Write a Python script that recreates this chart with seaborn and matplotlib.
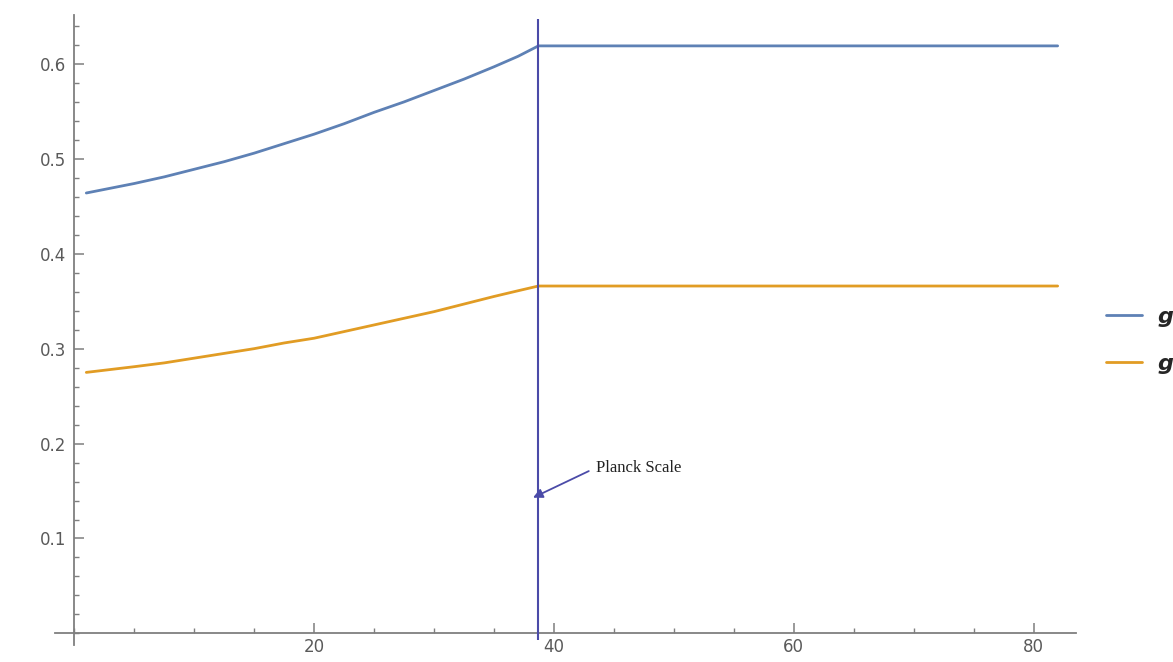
import matplotlib
matplotlib.use("Agg")
import matplotlib.pyplot as plt
import seaborn as sns
import pandas as pd
from matplotlib.ticker import MultipleLocator
from matplotlib.lines import Line2D

# Running couplings vs. scale parameter t, frozen above the Planck scale
t_values = [1, 3, 5, 7.5, 10, 12.5, 15, 17.5, 20, 22.5, 25, 27.5, 30, 32.5, 35, 37, 38.7, 82]
g_blue = [0.464, 0.469, 0.474, 0.481, 0.489, 0.497, 0.506, 0.516, 0.526, 0.537,
          0.549, 0.560, 0.572, 0.584, 0.597, 0.608, 0.619, 0.619]
g_orange = [0.275, 0.278, 0.281, 0.285, 0.290, 0.295, 0.300, 0.306, 0.311, 0.318,
            0.325, 0.332, 0.339, 0.347, 0.355, 0.361, 0.366, 0.366]
series_names = ["g", "g "]
planck_t = 38.7
planck_label = "Planck Scale"

df = pd.concat([
    pd.DataFrame({"t": t_values, "g": g_blue, "series": series_names[0]}),
    pd.DataFrame({"t": t_values, "g": g_orange, "series": series_names[1]}),
])

sns.set_style("white")
fig = plt.figure(figsize=(11.73, 6.62), dpi=100)
ax = fig.add_axes([0.047, 0.026, 0.870, 0.952])

colors = ["#5E81B5", "#E19C24"]
sns.lineplot(data=df, x="t", y="g", hue="series", palette=colors,
             linewidth=2.0, ax=ax, legend=False)

ax.set_xlim(-1.6, 83.5)
ax.set_ylim(-0.012, 0.652)

# Axes crossing at the origin
axis_color = "#7f7f7f"
for side in ["top", "right"]:
    ax.spines[side].set_visible(False)
ax.spines["left"].set_position(("data", 0))
ax.spines["bottom"].set_position(("data", 0))
for side in ["left", "bottom"]:
    ax.spines[side].set_color(axis_color)
    ax.spines[side].set_linewidth(1.3)

ax.xaxis.set_major_locator(MultipleLocator(20))
ax.xaxis.set_minor_locator(MultipleLocator(5))
ax.yaxis.set_major_locator(MultipleLocator(0.1))
ax.yaxis.set_minor_locator(MultipleLocator(0.02))
ax.tick_params(axis="both", which="both", bottom=True, left=True,
               top=False, right=False)
ax.tick_params(axis="both", which="major", direction="in", length=7, width=1.1,
               color=axis_color, labelcolor="#5a5a5a", labelsize=12)
ax.tick_params(axis="both", which="minor", direction="in", length=3.5, width=1.0,
               color=axis_color)
ax.tick_params(axis="x", which="major", pad=3)
ax.tick_params(axis="y", which="major", pad=6)
ax.set_xticks([20, 40, 60, 80])
ax.set_yticks([0.1, 0.2, 0.3, 0.4, 0.5, 0.6])
ax.set_xticklabels(["20", "40", "60", "80"])
ax.set_yticklabels(["0.1", "0.2", "0.3", "0.4", "0.5", "0.6"])
ax.set_xlabel("")
ax.set_ylabel("")

# Planck scale marker
line_color = "#4B4BA8"
ax.vlines(planck_t, -0.0074, 0.647, color=line_color, linewidth=1.5, zorder=3)
ax.annotate("", xy=(planck_t - 0.45, 0.143), xytext=(42.9, 0.171),
            arrowprops=dict(arrowstyle="-|>", color=line_color, lw=1.3,
                            mutation_scale=14, shrinkA=0, shrinkB=0))
ax.text(43.5, 0.174, planck_label, fontsize=12, family="Liberation Serif",
        color="#222222", va="center", ha="left")

# Legend outside the plot on the right
handles = [Line2D([0], [0], color=c, linewidth=2.0) for c in colors]
fig.legend(handles, ["g", "g"], loc="center left", bbox_to_anchor=(0.943, 0.486),
           frameon=False, borderpad=0, borderaxespad=0,
           handlelength=1.6, handletextpad=0.7, labelspacing=1.2,
           prop={"size": 16, "weight": "bold", "style": "italic"})

fig.savefig("out.png", dpi=100)
